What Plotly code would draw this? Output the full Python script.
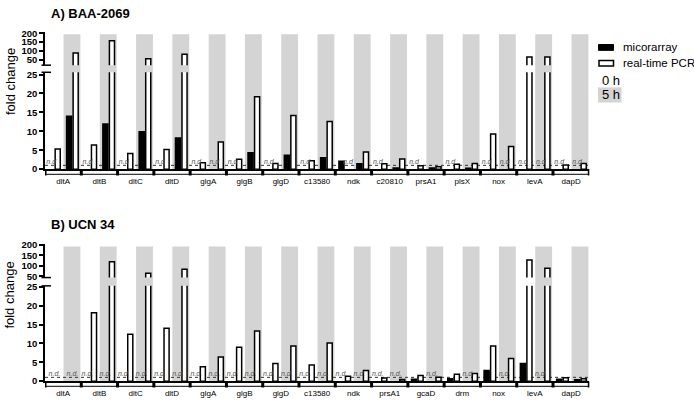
import plotly.graph_objects as go

W, H = 694, 403

# ---------------- data ----------------
genes_a = ["dltA", "dltB", "dltC", "dltD", "glgA", "glgB", "glgD", "c13580",
           "ndk", "c20810", "prsA1", "plsX", "nox", "levA", "dapD"]
micro_0h_a = [None, None, None, None, None, None, None, None, 2.1, None, None, None, None, None, None]
pcr_0h_a = [5.3, 6.4, 4.1, 5.2, 1.7, 2.6, 1.5, 2.2, None, 1.4, 0.9, 1.3, 9.3, 65, 1.1]
micro_5h_a = [14.0, 11.9, 9.9, 8.2, None, 4.3, 3.7, 3.0, 1.4, 0.3, 0.3, 0.2, None, None, None]
pcr_5h_a = [87, 158, 55, 80, 7.2, 19.1, 14.2, 12.6, 4.5, 2.7, 0.6, 1.5, 6.0, 65, 1.5]

genes_b = ["dltA", "dltB", "dltC", "dltD", "glgA", "glgB", "glgD", "c13580",
           "ndk", "prsA1", "gcaD", "drm", "nox", "levA", "dapD"]
micro_0h_b = [None, None, None, None, None, None, None, None, None, None, 0.5, 0.6, 2.8, 4.7, 0.5]
pcr_0h_b = [None, 18.1, 12.4, 14.0, 3.8, 9.0, 4.7, 4.3, 1.3, 0.8, 1.5, 1.8, 9.3, 127, 0.9]
micro_5h_b = [None, None, None, None, None, None, None, None, None, None, None, None, None, None, 0.35]
pcr_5h_b = [None, 119, 65, 84, 6.4, 13.3, 9.3, 10.1, 2.8, 0.4, 1.0, 2.0, 6.0, 88, 0.6]

lower_ticks = [0, 5, 10, 15, 20, 25]
upper_ticks = [50, 100, 150, 200]
BREAK = 25  # values above this continue in the upper segment

# ---------------- layout helpers ----------------
def fx(p):
    return p / W

def fy(p):
    return 1 - p / H

def rng(v1, p1, v2, p2, pbot, ptop):
    k = (p1 - p2) / (v2 - v1)
    return [v1 - (pbot - p1) / k, v1 + (p1 - ptop) / k]

X_L, X_R = 45, 589.3
GRAY = "#d4d4d4"
OFF_M = [0.17, 0.665]
OFF_P = [0.35, 0.845]
BW = 0.14

panels = [
    dict(title="A) BAA-2069", genes=genes_a, m0=micro_0h_a, p0=pcr_0h_a, m5=micro_5h_a, p5=pcr_5h_a,
         xa="x", yl="y", yu="y2", xkey="xaxis", ylkey="yaxis", yukey="yaxis2",
         low=(168.3, 69), lowcal=(0, 168.3, 25, 71.3),
         up=(61.7, 28), upcal=(50, 56, 200, 29),
         gray_top=30, title_y=8.5, ylab_y=79, nd="n.d"),
    dict(title="B) UCN 34", genes=genes_b, m0=micro_0h_b, p0=pcr_0h_b, m5=micro_5h_b, p5=pcr_5h_b,
         xa="x2", yl="y3", yu="y4", xkey="xaxis2", ylkey="yaxis3", yukey="yaxis4",
         low=(385.7, 288), lowcal=(0, 385.7, 25, 289),
         up=(279.5, 245), upcal=(50, 278.3, 200, 245.7),
         gray_top=247.7, title_y=225, ylab_y=298, nd="n.d."),
]

fig = go.Figure()
shapes = []
annotations = []
layout = {}

for P in panels:
    n = len(P["genes"])
    # bars
    for vals0, vals5, fill, name in [(P["m0"], P["m5"], "black", "micorarray"),
                                     (P["p0"], P["p5"], "white", "real-time PCR")]:
        offs = OFF_M if fill == "black" else OFF_P
        xs, ys = [], []
        for i in range(n):
            for s, vals in enumerate([vals0, vals5]):
                if vals[i] is not None:
                    xs.append(i + offs[s])
                    ys.append(vals[i])
        fig.add_trace(go.Bar(x=xs, y=ys, width=BW, xaxis=P["xa"], yaxis=P["yl"],
                             marker=dict(color=fill, line=dict(color="black", width=1.5)),
                             showlegend=False, name=name, hoverinfo="skip"))
        xu = [x for x, y in zip(xs, ys) if y > BREAK]
        yu = [y for y in ys if y > BREAK]
        fig.add_trace(go.Bar(x=xu, y=yu, width=BW, xaxis=P["xa"], yaxis=P["yu"],
                             marker=dict(color=fill, line=dict(color="black", width=1.5)),
                             showlegend=False, name=name, hoverinfo="skip"))
    # n.d. labels
    ndx = []
    for i in range(n):
        for s, (mv, pv) in enumerate([(P["m0"][i], P["p0"][i]), (P["m5"][i], P["p5"][i])]):
            if mv is None and pv is None:
                ndx.append(i + (OFF_M[s] + OFF_P[s]) / 2)
            else:
                if mv is None:
                    ndx.append(i + OFF_M[s])
                if pv is None:
                    ndx.append(i + OFF_P[s])
    fig.add_trace(go.Scatter(x=ndx, y=[1.7] * len(ndx), mode="text", text=[P["nd"]] * len(ndx),
                             textfont=dict(size=7, color="#555", style="italic", family="Liberation Sans"),
                             xaxis=P["xa"], yaxis=P["yl"], showlegend=False, hoverinfo="skip",
                             cliponaxis=False))

    lo_b, lo_t = P["low"]
    up_b, up_t = P["up"]
    v1, p1, v2, p2 = P["lowcal"]
    lrange = rng(v1, p1, v2, p2, lo_b, lo_t)
    v1, p1, v2, p2 = P["upcal"]
    urange = rng(v1, p1, v2, p2, up_b, up_t)

    yax_common = dict(showline=True, linewidth=1.5, linecolor="black", ticks="outside", ticklen=4,
                      tickwidth=1.5, tickcolor="black", showgrid=False, zeroline=False,
                      tickfont=dict(size=9.5, weight="bold", color="black", family="Liberation Sans"),
                      anchor=P["xa"])
    layout[P["ylkey"]] = dict(domain=[fy(lo_b), fy(lo_t)], range=lrange, tickvals=lower_ticks, **yax_common)
    layout[P["yukey"]] = dict(domain=[fy(up_b), fy(up_t)], range=urange, tickvals=upper_ticks, **yax_common)
    layout[P["xkey"]] = dict(domain=[fx(X_L), fx(X_R)], range=[0, n], anchor=P["yl"],
                             showline=True, linewidth=2, linecolor="black", showgrid=False, zeroline=False,
                             tickvals=[i + 0.5 for i in range(n)], ticktext=P["genes"],
                             ticks="outside", ticklen=3, tickcolor="rgba(0,0,0,0)",
                             tickfont=dict(size=8, color="black", family="Liberation Sans"))

    # gray 5 h bands
    for i in range(n):
        shapes.append(dict(type="rect", xref=P["xa"], yref="paper", x0=i + 0.51, x1=i + 0.975,
                           y0=fy(lo_b), y1=fy(P["gray_top"]), fillcolor=GRAY, line=dict(width=0),
                           layer="below"))
    # dotted line at fold change 1
    shapes.append(dict(type="line", xref=P["xa"], yref=P["yl"], x0=0, x1=n, y0=1, y1=1,
                       line=dict(color="#333", width=1, dash="dot"), layer="below"))
    # category separators and lower box line
    for i in range(n + 1):
        shapes.append(dict(type="line", xref=P["xa"], yref="paper", x0=i, x1=i,
                           y0=fy(lo_b), y1=fy(lo_b + 6.5), line=dict(color="black", width=3)))
    shapes.append(dict(type="line", xref=P["xa"], yref="paper", x0=0, x1=n,
                       y0=fy(lo_b + 5.3), y1=fy(lo_b + 5.3), line=dict(color="black", width=1)))
    # break marks
    for yy in [up_b, lo_t]:
        shapes.append(dict(type="line", xref="paper", yref="paper", x0=fx(41.5), x1=fx(51),
                           y0=fy(yy), y1=fy(yy), line=dict(color="black", width=1.5)))
    # title and y label
    annotations.append(dict(text=P["title"], x=fx(49), y=fy(P["title_y"]), xref="paper", yref="paper",
                            xanchor="left", yanchor="middle", showarrow=False,
                            font=dict(size=13, weight="bold", color="black", family="Liberation Sans")))
    annotations.append(dict(text="fold change", x=fx(10), y=fy(P["ylab_y"]), xref="paper", yref="paper",
                            xanchor="center", yanchor="middle", showarrow=False, textangle=-90,
                            font=dict(size=13, color="black", family="Liberation Sans")))

# custom legend
shapes.append(dict(type="rect", xref="paper", yref="paper", x0=fx(598.5), x1=fx(613.5),
                   y0=fy(46.5), y1=fy(40.5), fillcolor="black", line=dict(color="black", width=1)))
shapes.append(dict(type="rect", xref="paper", yref="paper", x0=fx(599), x1=fx(613.5),
                   y0=fy(62.5), y1=fy(57), fillcolor="white", line=dict(color="black", width=1.5)))
shapes.append(dict(type="rect", xref="paper", yref="paper", x0=fx(598), x1=fx(621.5),
                   y0=fy(100), y1=fy(84.5), fillcolor=GRAY, line=dict(width=0)))
for txt, yy in [("micorarray", 43.5), ("real-time PCR", 59.5)]:
    annotations.append(dict(text=txt, x=fx(621), y=fy(yy), xref="paper", yref="paper",
                            xanchor="left", yanchor="middle", showarrow=False,
                            font=dict(size=11.5, color="black", family="Liberation Sans")))
for txt, yy in [("0 h", 77.5), ("5 h", 92)]:
    annotations.append(dict(text=txt, x=fx(600), y=fy(yy), xref="paper", yref="paper",
                            xanchor="left", yanchor="middle", showarrow=False,
                            font=dict(size=13, color="black", family="Liberation Sans")))

fig.update_layout(width=W, height=H, autosize=False, margin=dict(l=0, r=0, t=0, b=0),
                  paper_bgcolor="white", plot_bgcolor="rgba(0,0,0,0)", barmode="overlay",
                  showlegend=False, shapes=shapes, annotations=annotations,
                  font=dict(family="Liberation Sans"), **layout)

fig.write_html("out.html", config={"displayModeBar": False},
               post_script="document.body.style.margin='0';document.body.style.overflow='hidden';")
